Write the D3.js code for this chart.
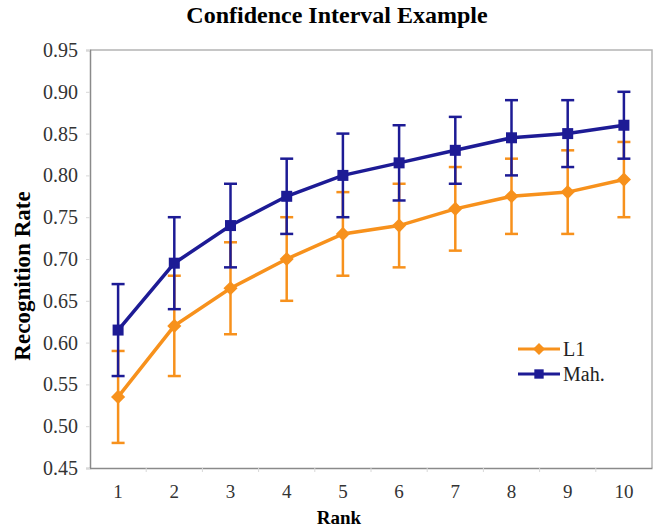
<!DOCTYPE html>
<html>
<head>
<meta charset="utf-8">
<script src="https://cdn.jsdelivr.net/npm/d3@7"></script>
<style>
  body { margin: 0; background: #fff; }
  svg text { font-family: 'Liberation Serif', 'Times New Roman', serif !important; }
</style>
</head>
<body>
<div id="chart"></div>
<script>
const ranks = [1, 2, 3, 4, 5, 6, 7, 8, 9, 10]
const yTicks = [0.45, 0.5, 0.55, 0.6, 0.65, 0.7, 0.75, 0.8, 0.85, 0.9, 0.95]

const l1Values = [0.535, 0.62, 0.665, 0.7, 0.73, 0.74, 0.76, 0.775, 0.78, 0.795]
const l1Low = [0.48, 0.56, 0.61, 0.65, 0.68, 0.69, 0.71, 0.73, 0.73, 0.75]
const l1High = [0.59, 0.68, 0.72, 0.75, 0.78, 0.79, 0.81, 0.82, 0.83, 0.84]

const mahValues = [0.615, 0.695, 0.74, 0.775, 0.8, 0.815, 0.83, 0.845, 0.85, 0.86]
const mahLow = [0.56, 0.64, 0.69, 0.73, 0.75, 0.77, 0.79, 0.8, 0.81, 0.82]
const mahHigh = [0.67, 0.75, 0.79, 0.82, 0.85, 0.86, 0.87, 0.89, 0.89, 0.9]

const width = 655
const height = 527
const margin = { top: 50, right: 3, bottom: 59, left: 90 }

const orange = '#f7911c'
const navy = '#1d1b95'

const series = [
  { name: 'L1', color: orange, shape: 'diamond', values: l1Values, low: l1Low, high: l1High },
  { name: 'Mah.', color: navy, shape: 'square', values: mahValues, low: mahLow, high: mahHigh }
]

const svg = d3
  .select('#chart')
  .append('svg')
  .attr('width', width)
  .attr('height', height)

const x = d3
  .scaleBand()
  .domain(ranks)
  .range([margin.left, width - margin.right])
const y = d3
  .scaleLinear()
  .domain([0.45, 0.95])
  .range([height - margin.bottom, margin.top])
const cx = (r) => x(r) + x.bandwidth() / 2

// plot frame (top and right)
svg
  .append('path')
  .attr('d', `M${margin.left},${margin.top}H${width - margin.right}V${height - margin.bottom}`)
  .attr('fill', 'none')
  .attr('stroke', '#b4b4b4')
  .attr('stroke-width', 1.5)

// y axis
const yAxis = svg
  .append('g')
  .attr('transform', `translate(${margin.left},0)`)
  .call(d3.axisLeft(y).tickValues(yTicks).tickFormat(d3.format('.2f')).tickSize(4).tickPadding(8))
yAxis.select('.domain').attr('stroke', '#8a8a8a').attr('stroke-width', 1.5)
yAxis.selectAll('.tick line').attr('stroke', '#d8d8d8')
yAxis.selectAll('.tick text').attr('font-size', 20).attr('fill', '#333')

// x axis: labels at centres, ticks at band edges
const xAxis = svg
  .append('g')
  .attr('transform', `translate(0,${height - margin.bottom})`)
  .call(d3.axisBottom(x).tickSize(0).tickPadding(17))
xAxis.select('.domain').attr('stroke', '#8a8a8a').attr('stroke-width', 1.5)
xAxis.selectAll('.tick text').attr('font-size', 19).attr('fill', '#333')

const xEdge = svg
  .append('g')
  .attr('transform', `translate(0,${height - margin.bottom})`)
  .call(d3.axisBottom(x).tickValues(ranks.slice(1)).tickFormat('').tickSize(4))
xEdge.select('.domain').remove()
xEdge.selectAll('.tick line').attr('stroke', '#d8d8d8')
xEdge.selectAll('.tick').attr('transform', (d) => `translate(${x(d)},0)`)

// titles
svg
  .append('text')
  .attr('x', 337)
  .attr('y', 23)
  .attr('text-anchor', 'middle')
  .attr('font-size', 24)
  .attr('font-weight', 'bold')
  .text('Confidence Interval Example')

svg
  .append('text')
  .attr('transform', `translate(30,${(margin.top + height - margin.bottom) / 2 + 17}) rotate(-90)`)
  .attr('text-anchor', 'middle')
  .attr('font-size', 23)
  .attr('font-weight', 'bold')
  .text('Recognition Rate')

svg
  .append('text')
  .attr('x', 339)
  .attr('y', 524)
  .attr('text-anchor', 'middle')
  .attr('font-size', 19)
  .attr('font-weight', 'bold')
  .text('Rank')

const line = d3
  .line()
  .x((d) => cx(d.rank))
  .y((d) => y(d.value))

const symbolFor = (shape) =>
  shape === 'square'
    ? d3.symbol(d3.symbolSquare, 121)()
    : d3.symbol(d3.symbolSquare, 100)()

const capW = 13

series.forEach((s) => {
  const pts = ranks.map((r, i) => ({ rank: r, value: s.values[i], low: s.low[i], high: s.high[i] }))
  const g = svg.append('g')

  g.append('path')
    .attr('d', line(pts))
    .attr('fill', 'none')
    .attr('stroke', s.color)
    .attr('stroke-width', 3.5)

  const eb = g.selectAll('.err').data(pts).join('g').attr('class', 'err')
  eb.append('line')
    .attr('x1', (d) => cx(d.rank))
    .attr('x2', (d) => cx(d.rank))
    .attr('y1', (d) => y(d.low))
    .attr('y2', (d) => y(d.high))
    .attr('stroke', s.color)
    .attr('stroke-width', 2.5)
  ;['low', 'high'].forEach((k) => {
    eb.append('line')
      .attr('x1', (d) => cx(d.rank) - capW / 2)
      .attr('x2', (d) => cx(d.rank) + capW / 2)
      .attr('y1', (d) => y(d[k]))
      .attr('y2', (d) => y(d[k]))
      .attr('stroke', s.color)
      .attr('stroke-width', 2.5)
  })

  g.selectAll('.mark')
    .data(pts)
    .join('path')
    .attr('class', 'mark')
    .attr('d', symbolFor(s.shape))
    .attr('transform', (d) =>
      `translate(${cx(d.rank)},${y(d.value)})` + (s.shape === 'diamond' ? ' rotate(45)' : '')
    )
    .attr('fill', s.color)
})

// legend
const legend = svg.append('g').attr('transform', 'translate(518,349)')
series.forEach((s, i) => {
  const row = legend.append('g').attr('transform', `translate(0,${i * 25})`)
  row.append('line').attr('x1', 0).attr('x2', 42).attr('stroke', s.color).attr('stroke-width', 3)
  row
    .append('path')
    .attr('d', symbolFor(s.shape))
    .attr('transform', `translate(21,0)` + (s.shape === 'diamond' ? ' rotate(45) scale(0.85)' : ' scale(0.85)'))
    .attr('fill', s.color)
  row
    .append('text')
    .attr('x', 45)
    .attr('dy', '0.35em')
    .attr('font-size', 20)
    .attr('fill', '#222')
    .text(s.name)
})
</script>
</body>
</html>
